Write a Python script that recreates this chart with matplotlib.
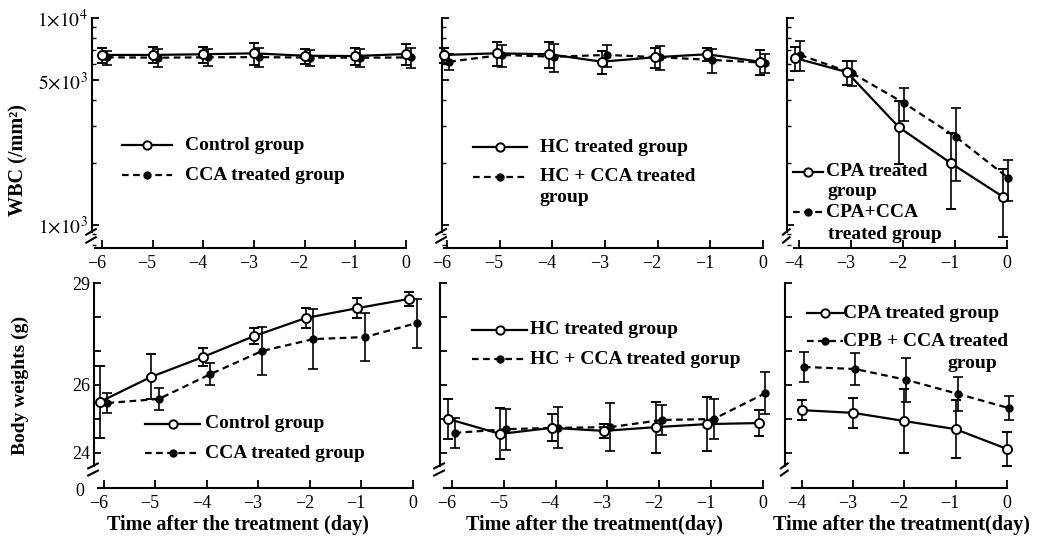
import matplotlib
matplotlib.use("Agg")
import matplotlib.pyplot as plt
import matplotlib.transforms as mtransforms
from matplotlib.lines import Line2D
from matplotlib.ticker import LogLocator, NullFormatter, FixedLocator
import numpy as np

plt.rcParams['font.family'] = ['Liberation Serif', 'DejaVu Serif']
plt.rcParams['mathtext.fontset'] = 'stix'

# ---------------- data ----------------
days6 = [-6, -5, -4, -3, -2, -1, 0]
days4 = [-4, -3, -2, -1, 0]

wbc_control = [6630, 6630, 6680, 6750, 6570, 6550, 6700]
wbc_cca = [6460, 6430, 6460, 6470, 6440, 6430, 6450]
err_wbc_control = [550, 600, 600, 800, 550, 600, 800]
err_wbc_cca = [500, 650, 600, 700, 600, 650, 700]

wbc_hc = [6630, 6750, 6680, 6150, 6460, 6680, 6150]
wbc_hc_cca = [6150, 6630, 6500, 6630, 6460, 6270, 6080]
err_wbc_hc = [550, 900, 950, 800, 700, 500, 850]
err_wbc_hc_cca = [550, 800, 1000, 800, 850, 850, 650]

wbc_cpa = [6410, 5480, 2970, 1990, 1370]
wbc_cpa_cca = [6630, 5420, 3880, 2660, 1690]
err_wbc_cpa = [850, 750, 1000, 800, 500]
err_wbc_cpa_cca = [1100, 750, 700, 1030, 380]

bw_control = [25.5, 26.24, 26.82, 27.44, 27.97, 28.26, 28.53]
bw_cca = [25.47, 25.59, 26.32, 27.0, 27.35, 27.41, 27.82]
err_bw_control = [1.07, 0.66, 0.27, 0.24, 0.29, 0.30, 0.2]
err_bw_cca = [0.29, 0.32, 0.32, 0.7, 0.88, 0.7, 0.72]

bw_hc = [25.0, 24.56, 24.74, 24.65, 24.76, 24.85, 24.88]
bw_hc_cca = [24.59, 24.7, 24.74, 24.76, 24.97, 25.0, 25.76]
err_bw_hc = [0.6, 0.75, 0.4, 0.2, 0.75, 0.8, 0.38]
err_bw_hc_cca = [0.44, 0.6, 0.6, 0.7, 0.45, 0.6, 0.62]

bw_cpa = [25.26, 25.18, 24.94, 24.7, 24.12]
bw_cpb_cca = [26.53, 26.47, 26.15, 25.74, 25.32]
err_bw_cpa = [0.3, 0.45, 0.95, 0.85, 0.5]
err_bw_cpb_cca = [0.45, 0.47, 0.65, 0.5, 0.36]

xlabel = "Time after the treatment (day)"
xlabel2 = "Time after the treatment(day)"

# ---------------- layout ----------------
W, H = 1041, 541
fig = plt.figure(figsize=(W / 100, H / 100), dpi=100)
FS = 13
LFS = 14
DASH = (0, (3, 2))


def px_axes(L, T, R, B):
    return fig.add_axes([L / W, 1 - B / H, (R - L) / W, (B - T) / H])


def series(ax, x, off, y, e, solid):
    xx = np.asarray(x, float) + off
    if solid:
        ax.errorbar(xx, y, yerr=e, color='k', ls='-', lw=1.6, marker='o', mfc='white',
                    mec='k', ms=6.5, mew=1.4, capsize=3.5, elinewidth=1.2, capthick=1.2,
                    zorder=4, clip_on=False)
    else:
        ax.errorbar(xx, y, yerr=e, color='k', ls=DASH, lw=1.6, marker='o', mfc='k',
                    mec='k', ms=5, capsize=3.5, elinewidth=1.2, capthick=1.2,
                    zorder=3, clip_on=False)


def style_axes(ax, xlim, ylim, xticks, xstart, ybreak, logy=False):
    if logy:
        ax.set_yscale('log')
    ax.set_xlim(*xlim)
    ax.set_ylim(*ylim)
    for s in ('top', 'right'):
        ax.spines[s].set_visible(False)
    ax.spines['left'].set_bounds(ybreak, ylim[1])
    ax.spines['bottom'].set_bounds(xstart, xticks[-1])
    for s in ('left', 'bottom'):
        ax.spines[s].set_linewidth(1.5)
    ax.set_xticks(xticks)
    ax.set_xticklabels([(("\u2212%d" % -t) if t < 0 else "%d" % t) for t in xticks], fontsize=FS)
    ax.tick_params(axis='x', direction='in', length=6, width=1.3, pad=5)
    ax.tick_params(axis='y', which='major', direction='in', length=5, width=1.3, labelsize=FS, pad=3)
    ax.tick_params(axis='y', which='minor', direction='in', length=3, width=1.0)
    shift = mtransforms.ScaledTranslation(-4 / 72, 0, fig.dpi_scale_trans)
    for lab, t in zip(ax.get_xticklabels(), xticks):
        if t < 0:
            lab.set_transform(lab.get_transform() + shift)
    # break marks on the y axis
    trans = ax.transAxes
    y0 = ax.transAxes.transform((0, 0))[1]
    y1 = ax.transAxes.transform((0, 1))[1]
    yb = (ax.transData.transform((0, ybreak))[1] - y0) / (y1 - y0)
    for dy in (0.0, 0.035):
        ax.add_line(Line2D([-0.018, 0.012], [yb - 0.012 - dy, yb + 0.012 - dy],
                           transform=trans, color='k', lw=1.5, clip_on=False))


def leg_entry(x0, x1, y, solid, text, tx, fs=LFS):
    fy = 1 - y / H
    ls = '-' if solid else DASH
    fig.add_artist(Line2D([x0 / W, x1 / W], [fy, fy], transform=fig.transFigure,
                          color='k', lw=1.6, ls=ls))
    if solid:
        fig.add_artist(Line2D([(x0 + x1) / 2 / W], [fy], transform=fig.transFigure,
                              marker='o', mfc='white', mec='k', ms=6, mew=1.4, ls='none'))
    else:
        fig.add_artist(Line2D([(x0 + x1) / 2 / W], [fy], transform=fig.transFigure,
                              marker='o', mfc='k', mec='k', ms=5, ls='none'))
    fig.text(tx / W, fy, text, ha='left', va='center', fontsize=fs, fontweight='bold')


def ftext(x, y, s, **kw):
    fig.text(x / W, 1 - y / H, s, **kw)


wbc_ylim = (774, 10000)
wbc_break = 926
bw_ylim = (22.97, 29)
bw_break = 23.62

# ---- top row ----
ax1 = px_axes(92, 18, 410, 248)
series(ax1, days6, 0.0, wbc_control, err_wbc_control, True)
series(ax1, days6, 0.1, wbc_cca, err_wbc_cca, False)
style_axes(ax1, (-6.197, 0.079), wbc_ylim, days6, -6.14, wbc_break, logy=True)

ax2 = px_axes(442, 18, 766, 248)
series(ax2, days6, -0.06, wbc_hc, err_wbc_hc, True)
series(ax2, days6, 0.04, wbc_hc_cca, err_wbc_hc_cca, False)
style_axes(ax2, (-6.095, 0.057), wbc_ylim, days6, -6.05, wbc_break, logy=True)

ax3 = px_axes(787, 18, 1010, 248)
series(ax3, days4, -0.08, wbc_cpa, err_wbc_cpa, True)
series(ax3, days4, 0.02, wbc_cpa_cca, err_wbc_cpa_cca, False)
style_axes(ax3, (-4.23, 0.058), wbc_ylim, days4, -4.1, wbc_break, logy=True)

for ax in (ax1, ax2, ax3):
    ax.yaxis.set_major_locator(FixedLocator([1000, 5000, 10000]))
    ax.yaxis.set_minor_locator(LogLocator(base=10, subs=np.arange(2, 10)))
    ax.yaxis.set_minor_formatter(NullFormatter())
ax1.set_yticklabels([r'$1{\times}10^{3}$', r'$5{\times}10^{3}$', r'$1{\times}10^{4}$'], fontsize=14)
ax2.set_yticklabels([])
ax3.set_yticklabels([])

# ---- bottom row ----
ax4 = px_axes(94, 283, 416, 488)
series(ax4, days6, -0.08, bw_control, err_bw_control, True)
series(ax4, days6, 0.07, bw_cca, err_bw_cca, False)
style_axes(ax4, (-6.19, 0.06), bw_ylim, days6, -6.12, bw_break)

ax5 = px_axes(440, 283, 766, 488)
series(ax5, days6, -0.07, bw_hc, err_bw_hc, True)
series(ax5, days6, 0.05, bw_hc_cca, err_bw_hc_cca, False)
style_axes(ax5, (-6.23, 0.06), bw_ylim, days6, -6.15, bw_break)

ax6 = px_axes(785, 283, 1012, 488)
series(ax6, days4, 0.0, bw_cpa, err_bw_cpa, True)
series(ax6, days4, 0.04, bw_cpb_cca, err_bw_cpb_cca, False)
style_axes(ax6, (-4.33, 0.1), bw_ylim, days4, -4.2, bw_break)

for ax in (ax4, ax5, ax6):
    ax.set_yticks([24, 25, 26, 27, 28, 29])
ax4.set_yticklabels(['24', '', '26', '', '', '29'], fontsize=FS)
ax5.set_yticklabels([])
ax6.set_yticklabels([])
ftext(80, 491, '0', ha='center', va='center', fontsize=FS)

# ---- legends ----
leg_entry(122, 172, 145, True, 'Control group', 185)
leg_entry(122, 172, 175, False, 'CCA treated group', 185)

leg_entry(473, 527, 147, True, 'HC treated group', 540)
leg_entry(473, 527, 177, False, 'HC + CCA treated', 540)
ftext(540, 198, 'group', ha='left', va='center', fontsize=LFS, fontweight='bold')

leg_entry(793, 823, 172, True, 'CPA treated', 826)
ftext(827, 191, 'group', ha='left', va='center', fontsize=LFS, fontweight='bold')
leg_entry(793, 823, 212, False, 'CPA+CCA', 826)
ftext(828, 235, 'treated group', ha='left', va='center', fontsize=LFS, fontweight='bold')

leg_entry(145, 200, 424, True, 'Control group', 205)
leg_entry(145, 200, 453, False, 'CCA treated group', 205)

leg_entry(472, 527, 330, True, 'HC treated group', 530)
leg_entry(472, 527, 359, False, 'HC + CCA treated gorup', 530)

leg_entry(807, 843, 313, True, 'CPA treated group', 843)
leg_entry(807, 843, 341, False, 'CPB + CCA treated', 843)
ftext(947, 363, 'group', ha='left', va='center', fontsize=LFS, fontweight='bold')

# ---- axis titles ----
ftext(18, 160, 'WBC (/mm\u00b2)', ha='center', va='center', rotation=90, fontsize=14.5, fontweight='bold')
ftext(20, 385, 'Body weights (g)', ha='center', va='center', rotation=90, fontsize=14, fontweight='bold')
ftext(238, 525, xlabel, ha='center', va='center', fontsize=14.5, fontweight='bold')
ftext(594, 525, xlabel2, ha='center', va='center', fontsize=14.5, fontweight='bold')
ftext(901, 525, xlabel2, ha='center', va='center', fontsize=14.5, fontweight='bold')

fig.savefig('out.png', dpi=100)
